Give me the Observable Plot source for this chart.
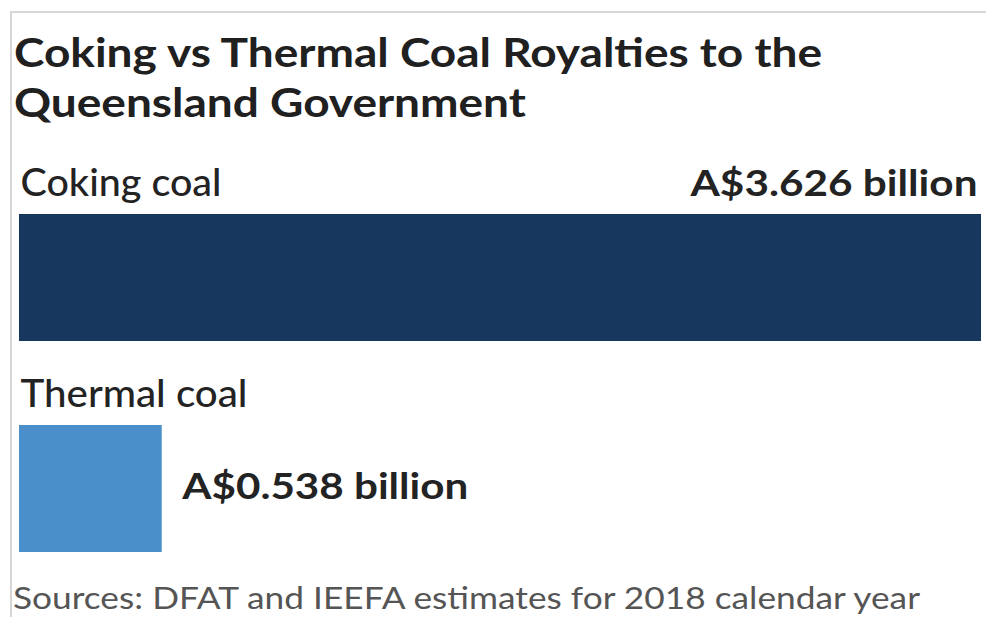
<!DOCTYPE html>
<html>
<head>
<meta charset="utf-8">
<script src="https://cdn.jsdelivr.net/npm/d3@7"></script>
<script src="https://cdn.jsdelivr.net/npm/@observablehq/plot@0.6"></script>
<style>
  html, body { margin: 0; padding: 0; background: #fff; }
  #wrap { position: relative; width: 986px; height: 617px; overflow: hidden; font-family: Lato, "Open Sans", "DejaVu Sans", sans-serif; }
  #frameTop { position: absolute; left: 10px; top: 11px; right: 0; height: 0; border-top: 2px solid #d6d6d6; }
  #frameLeft { position: absolute; left: 10px; top: 11px; bottom: 0; width: 0; border-left: 2px solid #d6d6d6; }
  #title { position: absolute; left: 14px; top: 27px; font-size: 41px; line-height: 50px; font-weight: 700; color: #202020; white-space: nowrap; transform-origin: 0 0; }
  #chart { position: absolute; left: 0; top: 150px; }
  #source { position: absolute; left: 13px; top: 582px; font-size: 30px; line-height: 30px; color: #555; white-space: nowrap; transform-origin: 0 0; }
</style>
</head>
<body>
<div id="wrap">
  <div id="frameTop"></div>
  <div id="frameLeft"></div>
  <div id="title"><div id="t1">Coking vs Thermal Coal Royalties to the</div><div id="t2">Queensland Government</div></div>
  <div id="chart"></div>
  <div id="source">Sources: DFAT and IEEFA estimates for 2018 calendar year</div>
</div>
<script>
// Data
const categories = ["Coking coal", "Thermal coal"];
const values = [3.626, 0.538];
const valueLabels = ["A$3.626 billion", "A$0.538 billion"];
const colors = ["#17375e", "#4a8fca"];

const data = categories.map((c, i) => ({category: c, value: values[i], label: valueLabels[i], color: colors[i]}));

// Horizontal condensing to mimic the original's condensed face
const titleEl = document.getElementById("title");
titleEl.style.display = "inline-block";
const tw = document.getElementById("t1").getBoundingClientRect().width;
titleEl.style.transform = `scaleX(${808 / tw})`;
const srcEl = document.getElementById("source");
srcEl.style.display = "inline-block";
srcEl.style.transform = `scaleX(${907 / srcEl.getBoundingClientRect().width})`;

const textColor = "#232323";

const plot = Plot.plot({
  width: 986,
  height: 410,
  marginTop: 63,
  marginBottom: 7,
  marginLeft: 19,
  marginRight: 5,
  x: {domain: [0, d3.max(values)], axis: null},
  y: {domain: categories, paddingInner: 0.396, paddingOuter: 0, axis: null},
  style: {fontFamily: "Lato, 'Open Sans', 'DejaVu Sans', sans-serif", background: "transparent", overflow: "visible"},
  marks: [
    Plot.barX(data, {x: "value", y: "category", fill: "color"}),
    Plot.text(data, {
      x: 0, y: "category", text: "category",
      textAnchor: "start", lineAnchor: "bottom", dy: -82, dx: 1,
      fontSize: 38, fontWeight: 500, fill: textColor
    }),
    Plot.text(data.filter((d) => d.category === "Coking coal"), {
      x: "value", y: "category", text: "label",
      textAnchor: "end", lineAnchor: "bottom", dy: -82, dx: -4,
      fontSize: 36, fontWeight: 700, fill: textColor
    }),
    Plot.text(data.filter((d) => d.category === "Thermal coal"), {
      x: "value", y: "category", text: "label",
      textAnchor: "start", lineAnchor: "middle", dy: -2, dx: 20,
      fontSize: 36, fontWeight: 700, fill: textColor
    })
  ]
});
document.getElementById("chart").appendChild(plot);

// Match text widths of the reference's condensed typeface
const targetWidths = {"Coking coal": 201, "Thermal coal": 227, "A$3.626 billion": 287, "A$0.538 billion": 286};
plot.querySelectorAll("text").forEach((t) => {
  const s = t.textContent;
  if (targetWidths[s]) {
    t.setAttribute("textLength", targetWidths[s]);
    t.setAttribute("lengthAdjust", "spacingAndGlyphs");
  }
});
</script>
</body>
</html>
